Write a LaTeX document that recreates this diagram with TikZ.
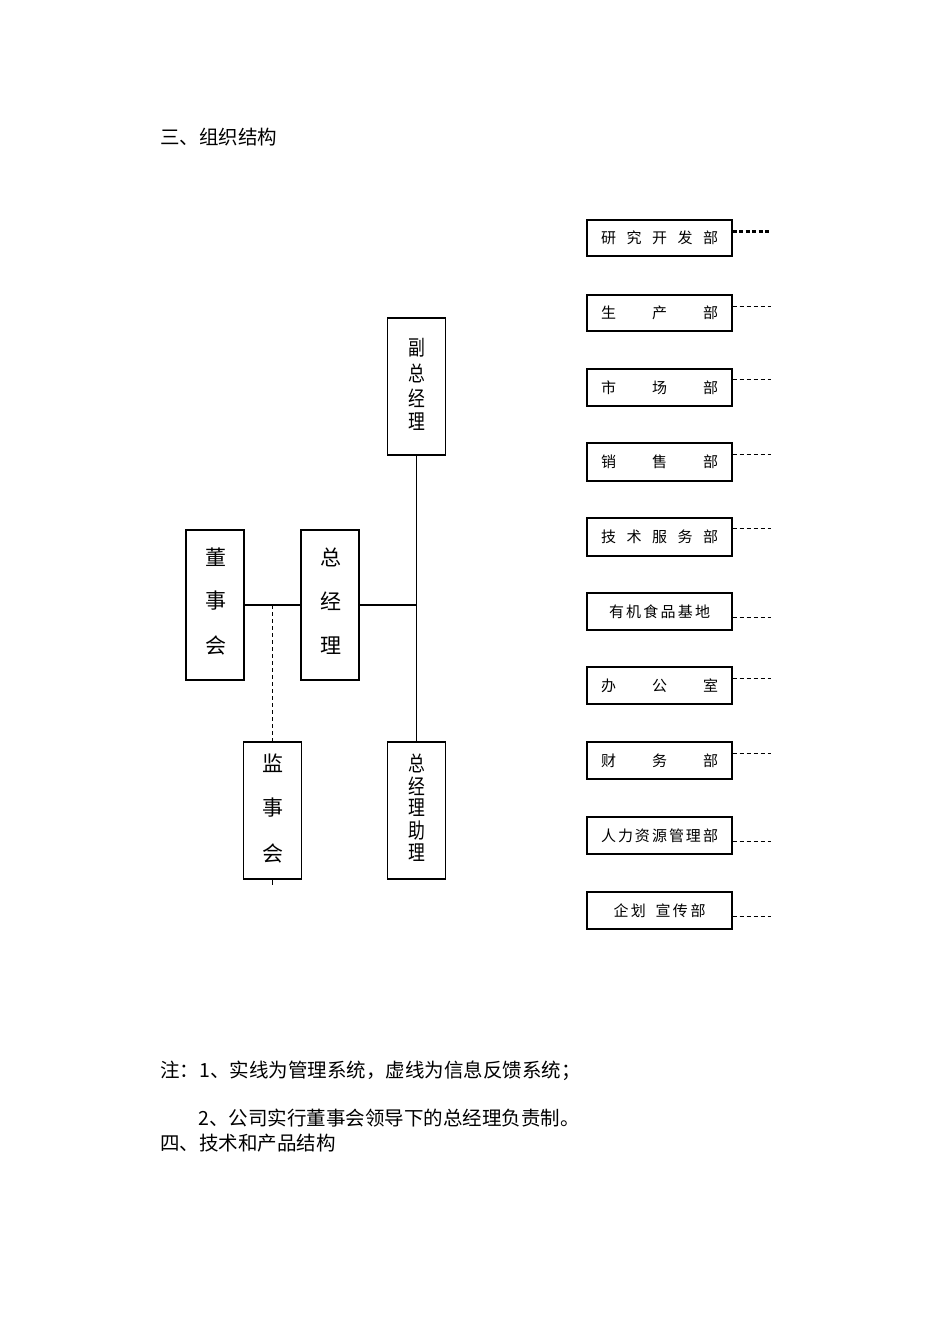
\documentclass[tikz,border=0pt]{standalone}
\usepackage{fontspec}
\newfontfamily\cjk{Noto Sans CJK SC}
\usetikzlibrary{calc}
\newcommand\nrw[1]{\scalebox{0.8}[1]{#1}}
\begin{document}
\begin{tikzpicture}[x=1pt,y=-1pt,
  box/.style={draw, line width=1.1pt, inner sep=0pt},
  rbox/.style={box, minimum width=145, font=\cjk\fontsize{15}{15}\selectfont},
  vbox/.style={box, minimum width=58},
  vchar/.style={font=\cjk\fontsize{21}{21}\selectfont, inner sep=0pt},
  para/.style={font=\cjk\fontsize{19.5}{19.5}\selectfont, inner sep=0pt, anchor=west},
  solidline/.style={line width=1.6pt},
  fbline/.style={line width=0.9pt, dash pattern=on 4pt off 3pt},
  fbthick/.style={line width=2.2pt, dash pattern=on 4pt off 2.5pt}]
\useasboundingbox (0,0) rectangle (950,1344);

% title
\node[para] (title) at (160,137) {三、组织结构};

% right column boxes
\node[rbox, minimum height=36] (d1) at (659.5,238) {\makebox[117pt][s]{研\hfill 究\hfill 开\hfill 发\hfill 部}};
\node[rbox, minimum height=36] (d2) at (659.5,313) {\makebox[117pt][s]{生\hfill 产\hfill 部}};
\node[rbox, minimum height=37] (d3) at (659.5,387.5) {\makebox[117pt][s]{市\hfill 场\hfill 部}};
\node[rbox, minimum height=38] (d4) at (659.5,462) {\makebox[117pt][s]{销\hfill 售\hfill 部}};
\node[rbox, minimum height=38] (d5) at (659.5,537) {\makebox[117pt][s]{技\hfill 术\hfill 服\hfill 务\hfill 部}};
\node[rbox, minimum height=37] (d6) at (659.5,611.5) {\makebox[101pt][s]{有\hfill 机\hfill 食\hfill 品\hfill 基\hfill 地}};
\node[rbox, minimum height=37] (d7) at (659.5,685.5) {\makebox[117pt][s]{办\hfill 公\hfill 室}};
\node[rbox, minimum height=37] (d8) at (659.5,760.5) {\makebox[117pt][s]{财\hfill 务\hfill 部}};
\node[rbox, minimum height=37] (d9) at (659.5,835.5) {\makebox[117pt][s]{人\hfill 力\hfill 资\hfill 源\hfill 管\hfill 理\hfill 部}};
\node[rbox, minimum height=37] (d10) at (659.5,910.5) {\makebox[92pt][s]{企\hfill 划\hspace{7pt}\hfill 宣\hfill 传\hfill 部}};

% feedback dashes from right boxes
\draw[fbthick] ($(d1.north east)+(0,12)$) -- ++(38,0);
\draw[fbline] ($(d2.north east)+(0,12)$) -- ++(38,0);
\draw[fbline] ($(d3.north east)+(0,11)$) -- ++(38,0);
\draw[fbline] ($(d4.north east)+(0,12)$) -- ++(38,0);
\draw[fbline] ($(d5.north east)+(0,11)$) -- ++(38,0);
\draw[fbline] ($(d6.north east)+(0,25)$) -- ++(38,0);
\draw[fbline] ($(d7.north east)+(0,12)$) -- ++(38,0);
\draw[fbline] ($(d8.north east)+(0,12)$) -- ++(38,0);
\draw[fbline] ($(d9.north east)+(0,25)$) -- ++(38,0);
\draw[fbline] ($(d10.north east)+(0,25)$) -- ++(38,0);

% left structure boxes
\node[vbox, minimum height=150] (dsh) at (215,605) {};
\node[vchar] at (216,557) {董};
\node[vchar] at (216,601) {事};
\node[vchar] at (216,646) {会};

\node[vbox, minimum height=150] (zjl) at (330,605) {};
\node[vchar] at (331,557) {总};
\node[vchar] at (331,601) {经};
\node[vchar] at (331,646) {理};

\node[vbox, minimum height=137] (fzjl) at (416.5,386.5) {};
\node[vchar] at (417,348) {\nrw{副}};
\node[vchar] at (417,373) {\nrw{总}};
\node[vchar] at (417,398) {\nrw{经}};
\node[vchar] at (417,422) {\nrw{理}};

\node[vbox, minimum height=137] (jsh) at (272.5,810.5) {};
\node[vchar] at (273,763) {监};
\node[vchar] at (273,808) {事};
\node[vchar] at (273,853) {会};

\node[vbox, minimum height=137] (zl) at (416.5,810.5) {};
\node[vchar] at (417,763) {\nrw{总}};
\node[vchar] at (417,786) {\nrw{经}};
\node[vchar] at (417,808) {\nrw{理}};
\node[vchar] at (417,831) {\nrw{助}};
\node[vchar] at (417,853) {\nrw{理}};

% connectors
\coordinate (jr) at (416.5,605);
\coordinate (jd) at (272.5,605);
\coordinate (jend) at (272.5,885);
\draw[solidline] (dsh.east) -- (zjl.west);
\draw[solidline] (zjl.east) -- (jr);
\draw[line width=1.3pt] (fzjl.south) -- (zl.north);
\draw[line width=1pt, dash pattern=on 4pt off 3pt] (jd) -- (jsh.north);
\draw[line width=1pt] (jsh.south) -- (jend);

% notes
\node[para] (n1) at (160,1071) {注：1、实线为管理系统，虚线为信息反馈系统；};
\node[para] (n2) at (198,1118) {2、公司实行董事会领导下的总经理负责制。};
\node[para] (n3) at (160,1143) {四、技术和产品结构};
\end{tikzpicture}
\end{document}
